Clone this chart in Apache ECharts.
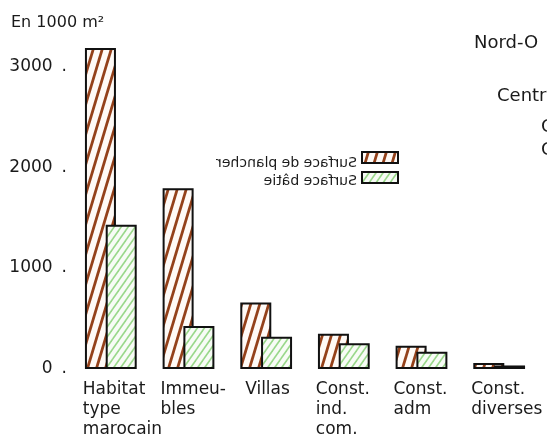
<!DOCTYPE html>
<html>
<head>
<meta charset="utf-8">
<script src="https://cdn.jsdelivr.net/npm/echarts@6/dist/echarts.min.js"></script>
<style>html,body{margin:0;padding:0;background:#fff;}#c{width:547px;height:443px;}</style>
</head>
<body>
<div id="c"></div>
<script>
const categories = ['Habitat\ntype\nmarocain', 'Immeu-\nbles', 'Villas', 'Const.\nind.\ncom.', 'Const.\nadm', 'Const.\ndiverses'];
const surfacePlancher = [3180, 1790, 660, 350, 230, 60];
const surfaceBatie = [1430, 425, 320, 255, 170, 35];
const yTicks = [0, 1000, 2000, 3000];
const seriesNames = ['Surface de plancher', 'Surface bâtie'];
const unitLabel = 'En 1000 m²';

const FONT = 'DejaVu Sans';
const INK = '#1a1a1a';

function stripes(w, h, color, lw, bg) {
  const c = document.createElement('canvas');
  c.width = w; c.height = h;
  const ctx = c.getContext('2d');
  ctx.fillStyle = bg; ctx.fillRect(0, 0, w, h);
  ctx.strokeStyle = color; ctx.lineWidth = lw; ctx.lineCap = 'square';
  for (let k = -1; k <= 1; k++) {
    ctx.beginPath();
    ctx.moveTo(k * w, h);
    ctx.lineTo(k * w + w, 0);
    ctx.stroke();
  }
  return c;
}
const brownFill = { image: stripes(9, 30, '#94411a', 2.8, '#fffaf6'), repeat: 'repeat' };
const greenFill = { image: stripes(7, 10, '#9ad88b', 1.6, '#f8fcf6'), repeat: 'repeat' };

const chart = echarts.init(document.getElementById('c'), null, { renderer: 'canvas' });
chart.setOption({
  animation: false,
  backgroundColor: '#ffffff',
  title: {
    text: unitLabel, left: 6, top: 10,
    textStyle: { fontFamily: FONT, fontSize: 16, fontWeight: 'normal', color: INK }
  },
  grid: { left: 72, right: 9, top: 46, bottom: 74 },
  xAxis: {
    type: 'category',
    data: categories,
    axisLine: { show: false },
    axisTick: { show: false },
    axisLabel: {
      interval: 0, margin: 11, align: 'center',
      formatter: (v, i) => v.split('\n').map(l => (i === 2 ? '{b|' : '{a|') + l + '}').join('\n'),
      rich: {
        a: { width: 56, align: 'left', fontFamily: FONT, fontSize: 17, lineHeight: 20, color: INK },
        b: { width: 42, align: 'left', fontFamily: FONT, fontSize: 17, lineHeight: 20, color: INK }
      }
    }
  },
  yAxis: {
    type: 'value', min: 0, max: 3200, interval: 1000,
    axisLine: { show: false }, axisTick: { show: false }, splitLine: { show: false },
    axisLabel: {
      margin: 5, showMaxLabel: false,
      formatter: v => yTicks.indexOf(v) >= 0 ? '{v|' + v + '}{d|.}' : '',
      rich: {
        v: { fontFamily: FONT, fontSize: 17, color: INK },
        d: { fontFamily: FONT, fontSize: 17, color: INK, padding: [0, 0, 0, 9] }
      }
    }
  },
  series: [
    {
      name: seriesNames[0], type: 'bar', data: surfacePlancher,
      barWidth: 31, barGap: '-33%',
      itemStyle: { color: brownFill, borderColor: '#111', borderWidth: 2 }
    },
    {
      name: seriesNames[1], type: 'bar', data: surfaceBatie,
      barWidth: 31, barGap: '-33%',
      itemStyle: { color: greenFill, borderColor: '#111', borderWidth: 2 }
    }
  ],
  graphic: [
    { type: 'rect', shape: { x: 362, y: 152, width: 36, height: 11 }, style: { fill: brownFill, stroke: '#111', lineWidth: 2 } },
    { type: 'rect', shape: { x: 362, y: 172, width: 36, height: 11 }, style: { fill: greenFill, stroke: '#111', lineWidth: 2 } },
    { type: 'text', x: 357, y: 163, scaleX: -1, style: { text: seriesNames[0], fontFamily: FONT, fontSize: 14, fill: INK, textAlign: 'left', textVerticalAlign: 'middle' } },
    { type: 'text', x: 357, y: 181, scaleX: -1, style: { text: seriesNames[1], fontFamily: FONT, fontSize: 14, fill: INK, textAlign: 'left', textVerticalAlign: 'middle' } },
    { type: 'text', x: 202, y: -6, style: { text: '1000', fontFamily: FONT, fontSize: 16, fill: INK, textVerticalAlign: 'middle' } },
    { type: 'text', x: 474, y: 43, style: { text: 'Nord-O', fontFamily: FONT, fontSize: 18, fill: INK, textVerticalAlign: 'middle' } },
    { type: 'text', x: 497, y: 96, style: { text: 'Centr', fontFamily: FONT, fontSize: 18, fill: INK, textVerticalAlign: 'middle' } },
    { type: 'text', x: 541, y: 127, style: { text: 'C', fontFamily: FONT, fontSize: 18, fill: INK, textVerticalAlign: 'middle' } },
    { type: 'text', x: 541, y: 150, style: { text: 'C', fontFamily: FONT, fontSize: 18, fill: INK, textVerticalAlign: 'middle' } }
  ]
});
</script>
</body>
</html>
